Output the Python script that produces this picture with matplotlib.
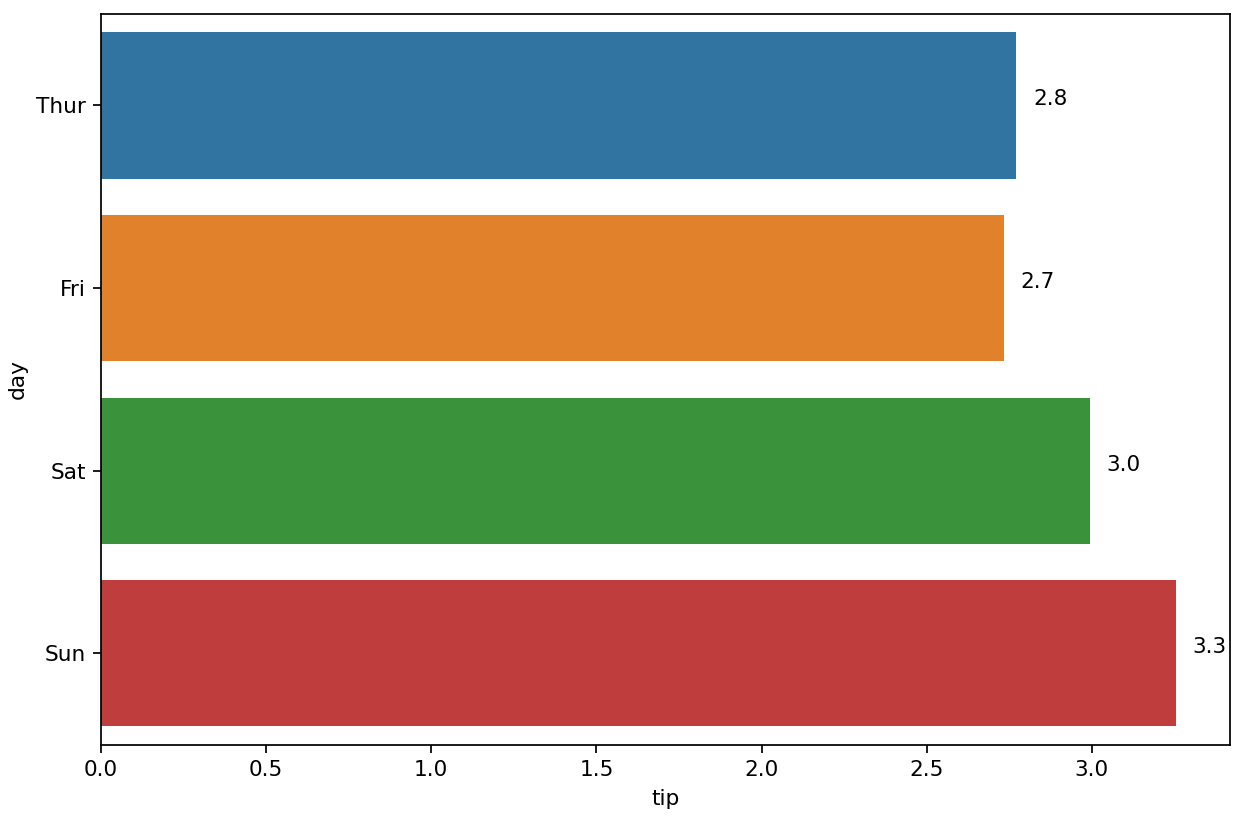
import numpy as np
import matplotlib
matplotlib.use("Agg")
import matplotlib.pyplot as plt

# mean tip per day (tips dataset)
days = ["Thur", "Fri", "Sat", "Sun"]
tips = [2.771452, 2.734737, 2.993103, 3.255132]
colors = ["#3274a1", "#e1812c", "#3a923a", "#c03d3e"]

DPI = 156
fig = plt.figure(figsize=(1242 / DPI, 833 / DPI), dpi=DPI)
ax = fig.add_axes([0.0813, 0.106, 0.909, 0.877])

y = np.arange(len(days))
ax.barh(y, tips, height=0.8, color=colors)
ax.set_yticks(y)
ax.set_yticklabels(days)
ax.set_ylim(len(days) - 0.5, -0.5)
ax.set_xlabel("tip")
ax.set_ylabel("day")

# value labels next to each bar
for i, v in enumerate(tips):
    ax.text(v + 0.05, i, f"{v:.1f}")

fig.savefig("out.png", dpi=DPI)
